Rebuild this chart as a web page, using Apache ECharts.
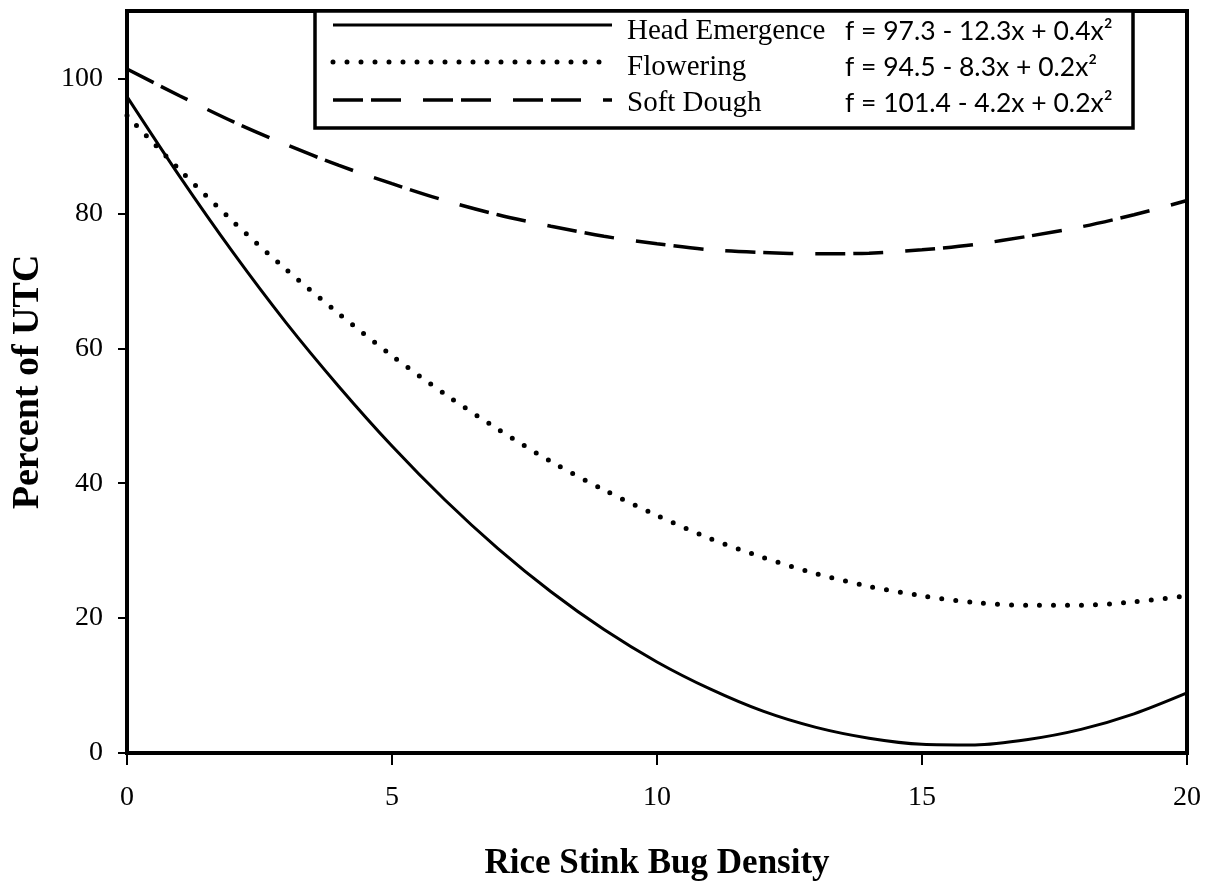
<!DOCTYPE html>
<html>
<head>
<meta charset="utf-8">
<script src="https://cdn.jsdelivr.net/npm/echarts@6/dist/echarts.min.js"></script>
<style>
html,body{margin:0;padding:0;background:#fff;}
#chart{width:1211px;height:882px;}
</style>
</head>
<body>
<div id="chart"></div>
<script>
// Data
const xValues = [0,1,2,3,4,5,6,7,8,9,10,11,12,13,14,15,16,17,18,19,20];
const headEmergence = [97.3,85.4,74.2,63.8,54.3,45.5,37.5,30.3,23.9,18.3,13.5,9.5,6.2,3.8,2.2,1.3,1.2,2.0,3.5,5.8,8.9];
const flowering = [94.5,86.4,78.8,71.7,65.1,58.9,53.2,48.0,43.2,39.0,35.2,31.8,29.0,26.6,24.7,23.3,22.3,21.9,21.9,22.4,23.3];
const softDough = [101.4,97.4,93.6,90.2,87.1,84.4,81.9,79.8,78.1,76.6,75.5,74.6,74.2,74.0,74.1,74.6,75.4,76.6,78.0,79.8,81.9];
const seriesNames = ['Head Emergence','Flowering','Soft Dough'];
const equations = ['f = 97.3 - 12.3x + 0.4x²','f = 94.5 - 8.3x + 0.2x²','f = 101.4 - 4.2x + 0.2x²'];
const yTicks = [0,20,40,60,80,100];
const xTicks = [0,5,10,15,20];

const pairs = arr => xValues.map((x,i)=>[x,arr[i]]);
const serif = '"Liberation Serif","Times New Roman",serif';
const eqFont = 'Lato, "Open Sans", sans-serif';

const chart = echarts.init(document.getElementById('chart'), null, {renderer:'canvas'});

const lineStyles = [
  {color:'#000', width:3, type:'solid'},
  {color:'#000', width:5, type:[0,14], cap:'round'},
  {color:'#000', width:3.5, type:[30,8,30,22], cap:'butt'}
];

const legendY = [25, 62, 100];
const textY = [31, 67, 103];
const graphics = [
  {type:'rect', z:100, shape:{x:315, y:11, width:818, height:117},
   style:{fill:'#fff', stroke:'#000', lineWidth:3.5}}
];
seriesNames.forEach((n,i)=>{
  const ls = lineStyles[i];
  graphics.push({type:'line', z:101, shape:{x1:333, y1:legendY[i], x2:612, y2:legendY[i]},
    style:{stroke:'#000', lineWidth:ls.width, lineDash: ls.type==='solid'?null:ls.type, lineCap: ls.cap||'butt'}});
  graphics.push({type:'text', z:101, x:627, y:textY[i],
    style:{text:n, font:'29px '+serif, fill:'#000', textVerticalAlign:'middle', textAlign:'left'}});
  graphics.push({type:'text', z:101, x:845, y:textY[i],
    style:{text:equations[i], font:'26.5px '+eqFont, fill:'#000', textVerticalAlign:'middle', textAlign:'left'}});
});

const option = {
  backgroundColor:'#fff',
  animation:false,
  grid:{left:127, right:24, top:11, bottom:129, show:true, borderColor:'#000', borderWidth:4,
        backgroundColor:'transparent', containLabel:false, outerBoundsMode:'none'},
  xAxis:{
    type:'value', min:0, max:20, interval:5,
    name:'Rice Stink Bug Density', nameLocation:'middle', nameGap:93,
    nameTextStyle:{fontFamily:serif, fontWeight:'bold', fontSize:35, color:'#000'},
    axisLine:{show:true, onZero:false, lineStyle:{color:'#000', width:4}},
    axisTick:{show:true, inside:false, length:12, lineStyle:{color:'#000', width:2}, customValues:xTicks},
    axisLabel:{color:'#000', fontFamily:serif, fontSize:28, margin:31, customValues:xTicks},
    splitLine:{show:false}
  },
  yAxis:{
    type:'value', min:0, max:110, interval:20,
    name:'Percent of UTC', nameLocation:'middle', nameGap:80, nameRotate:90,
    nameTextStyle:{fontFamily:serif, fontWeight:'bold', fontSize:38, color:'#000'},
    axisLine:{show:true, onZero:false, lineStyle:{color:'#000', width:4}},
    axisTick:{show:true, inside:false, length:9, lineStyle:{color:'#000', width:2}, customValues:yTicks},
    axisLabel:{color:'#000', fontFamily:serif, fontSize:28, margin:24, customValues:yTicks},
    splitLine:{show:false}
  },
  series: [headEmergence, flowering, softDough].map((arr,i)=>({
    name:seriesNames[i], type:'line', data:pairs(arr), smooth:0.3, symbol:'none',
    lineStyle:lineStyles[i], clip:true
  })),
  graphic:graphics
};
chart.setOption(option);
</script>
</body>
</html>
